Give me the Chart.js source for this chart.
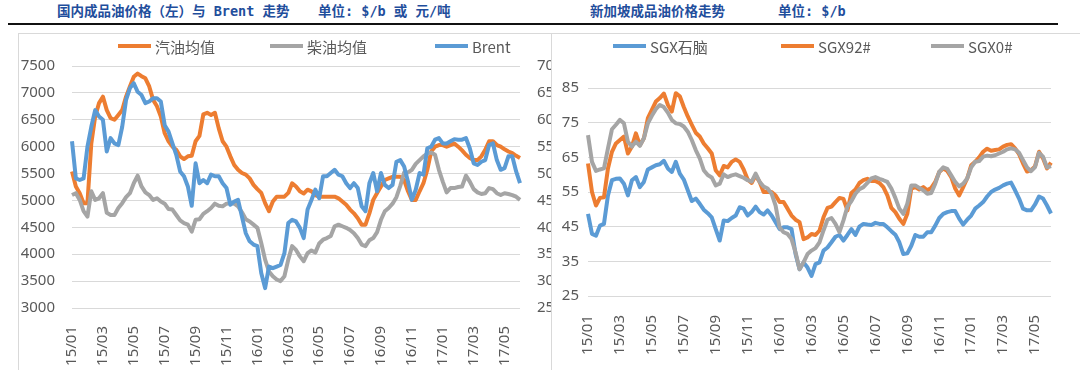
<!DOCTYPE html>
<html>
<head>
<meta charset="utf-8">
<title>成品油价格走势</title>
<script src="https://cdn.jsdelivr.net/npm/chart.js"></script>
<style>
    body { margin: 0; width: 1080px; height: 370px; overflow: hidden; background: #fff; position: relative; }
    .title { position: absolute; top: 1px; line-height: 20px; font-size: 13.5px; font-weight: bold; color: #1f4e9c;
             font-family: "DejaVu Sans Mono", "Noto Sans CJK SC", sans-serif; white-space: nowrap; }
    .rule { position: absolute; left: 8px; top: 23px; width: 1050px; border-top: 2px solid #111; }
    .frame { position: absolute; top: 33px; height: 345px; box-sizing: border-box; border: 1px solid #d9d9d9; background: #fff; }
    #leftFrame { left: 18px; width: 534px; z-index: 0; }
    #rightFrame { left: 551px; width: 529px; border-right: none; z-index: 2; }
    #leftChart { position: absolute; left: 19px; top: 34px; z-index: 1; }
    #rightChart { position: absolute; left: 1px; top: 0px; }
</style>
</head>
<body>
<div class="title" style="left:57px">国内成品油价格（左）与 Brent 走势</div>
<div class="title" style="left:318px">单位: $/b 或 元/吨</div>
<div class="title" style="left:590px">新加坡成品油价格走势</div>
<div class="title" style="left:778px">单位: $/b</div>
<div class="rule"></div>

<div class="frame" id="leftFrame"></div>
<canvas id="leftChart" width="598" height="340"></canvas>
<div class="frame" id="rightFrame">
    <canvas id="rightChart" width="527" height="340"></canvas>
</div>

<script>
// x 轴：每月 4 个点，每两个月一个刻度
var tickLabels = ['15/01', '15/03', '15/05', '15/07', '15/09', '15/11', '16/01', '16/03',
                  '16/05', '16/07', '16/09', '16/11', '17/01', '17/03', '17/05'];

// 国内成品油价格 (元/吨) 与 Brent ($/b)
var gasoline = [
    5540, 5260, 5135, 4950, 4950, 6060, 6560, 6810, 6930, 6680,
    6530, 6500, 6590, 6680, 6930, 7120, 7300, 7360, 7310, 7270,
    7120, 6870, 6750, 6560, 6250, 6100, 6000, 5940, 5820, 5770,
    5820, 5830, 6100, 6200, 6600, 6630, 6590, 6630, 6340, 6100,
    6000, 5820, 5660, 5570, 5510, 5480, 5410, 5290, 5210, 5140,
    4950, 4800, 4980, 5070, 5070, 5070, 5140, 5320, 5260, 5170,
    5130, 5200, 5170, 5100, 5070, 5070, 5070, 5070, 5070, 5040,
    4980, 4920, 4830, 4760, 4670, 4550, 4550, 4760, 5010, 5140,
    5260, 5380, 5410, 5440, 5440, 5440, 5380, 5170, 5010, 5010,
    5170, 5320, 5570, 5910, 6000, 6030, 6030, 6000, 6030, 6060,
    6000, 5930, 5850, 5790, 5750, 5750, 5820, 5940, 6100, 6100,
    6030, 6000, 5950, 5910, 5880, 5830, 5790
];
var diesel = [
    5100, 5135, 5010, 4800, 4700, 5170, 5010, 5040, 5135, 4770,
    4730, 4730, 4860, 4950, 5060, 5135, 5320, 5460, 5260, 5150,
    5100, 5010, 5040, 4980, 4940, 4840, 4830, 4730, 4630, 4580,
    4550, 4420, 4640, 4650, 4750, 4800, 4860, 4940, 4900, 4890,
    4940, 4950, 4940, 4890, 4780, 4650, 4610, 4550, 4490, 4210,
    3900, 3680, 3590, 3530, 3500, 3590, 3900, 4150, 4080, 3960,
    3870, 4020, 4070, 4030, 4200, 4270, 4300, 4340, 4520, 4550,
    4520, 4490, 4450, 4390, 4300, 4180, 4150, 4260, 4300, 4410,
    4640, 4800, 4860, 4940, 5060, 5270, 5520, 5520, 5570, 5680,
    5750, 5820, 5870, 5890, 5850, 5570, 5350, 5150, 5230, 5230,
    5250, 5260, 5460, 5350, 5210, 5150, 5120, 5135, 5230, 5210,
    5135, 5100, 5135, 5120, 5100, 5070, 5010
];
var brent = [
    56.0, 49.1, 48.8, 49.1, 55.0, 58.7, 61.8, 60.6, 60.0, 54.1,
    56.6, 55.6, 55.3, 58.7, 63.7, 65.9, 66.8, 65.2, 64.6, 63.1,
    63.4, 64.0, 64.0, 63.4, 59.0, 57.8, 55.6, 53.5, 50.4, 49.5,
    47.6, 44.0, 51.9, 48.2, 48.8, 48.2, 49.8, 49.5, 49.5, 48.2,
    47.3, 44.2, 44.8, 45.1, 42.0, 38.9, 37.4, 36.8, 36.5, 31.5,
    28.7, 32.7, 32.4, 32.7, 33.0, 35.2, 40.8, 41.4, 41.1, 39.9,
    38.0, 43.3, 45.1, 47.0, 45.4, 49.5, 49.5, 50.1, 50.7, 49.8,
    49.5, 48.2, 47.3, 48.2, 47.3, 43.9, 43.0, 48.2, 50.1, 46.7,
    50.1, 47.9, 47.3, 47.9, 52.2, 52.5, 51.3, 48.5, 45.1, 47.0,
    50.1, 49.8, 54.7, 55.0, 56.3, 56.6, 55.6, 55.6, 56.0, 56.4,
    56.3, 56.3, 56.6, 54.7, 51.9, 51.6, 52.2, 52.5, 55.3, 55.6,
    52.5, 50.7, 51.0, 53.2, 53.2, 50.4, 48.2
];

// 新加坡成品油价格 ($/b)
var naphtha = [
    48.7, 42.9, 42.4, 45.3, 45.8, 54.0, 58.4, 58.8, 58.9, 57.4,
    54.0, 58.4, 59.3, 56.4, 57.9, 61.5, 62.1, 62.7, 63.0, 64.0,
    61.8, 60.8, 63.7, 60.3, 58.6, 55.5, 52.4, 53.1, 51.6, 49.9,
    48.9, 47.7, 44.3, 41.0, 46.8, 46.6, 47.5, 48.2, 50.6, 50.2,
    48.2, 49.2, 50.8, 49.2, 48.5, 49.7, 48.2, 46.3, 44.3, 44.8,
    44.8, 44.3, 37.1, 32.7, 34.7, 33.2, 30.8, 34.2, 34.7, 38.1,
    39.0, 40.5, 42.1, 42.6, 41.0, 42.6, 44.3, 42.6, 45.0, 45.8,
    45.6, 45.5, 46.1, 45.8, 45.8, 44.8, 43.7, 42.7, 40.5, 37.1,
    37.3, 39.5, 42.6, 42.1, 42.1, 43.4, 43.4, 45.3, 47.5, 48.7,
    49.2, 49.5, 49.5, 47.3, 45.6, 47.0, 48.2, 50.2, 51.1, 52.1,
    53.7, 55.0, 55.7, 56.2, 56.9, 57.4, 57.7, 55.5, 53.1, 50.2,
    49.7, 49.7, 51.4, 53.7, 53.1, 51.1, 48.8
];
var sgx92 = [
    63.2, 55.0, 51.1, 53.3, 53.5, 61.8, 66.6, 69.0, 70.0, 71.0,
    66.1, 68.1, 71.9, 68.5, 70.5, 76.3, 78.7, 81.1, 82.1, 83.4,
    80.2, 78.2, 83.5, 82.6, 79.5, 76.8, 74.4, 72.1, 71.0, 69.0,
    67.6, 66.1, 61.3, 59.8, 62.5, 62.1, 63.7, 64.4, 63.7, 61.5,
    58.6, 57.6, 59.8, 57.9, 55.0, 55.0, 55.0, 54.0, 52.1, 52.1,
    50.2, 48.2, 47.0, 46.3, 41.4, 41.9, 42.9, 42.6, 43.9, 47.7,
    50.4, 50.8, 52.1, 53.3, 53.0, 49.7, 54.7, 55.7, 57.6, 58.4,
    58.8, 58.2, 58.2, 57.6, 56.4, 54.0, 50.4, 49.2, 47.3, 45.8,
    48.7, 56.0, 56.4, 55.7, 56.4, 55.5, 56.2, 57.9, 60.8, 61.8,
    61.1, 59.3, 56.0, 54.0, 56.4, 58.9, 62.7, 63.7, 65.0, 66.6,
    67.5, 66.9, 67.1, 67.3, 68.1, 68.6, 68.8, 67.6, 65.9, 63.2,
    60.9, 61.3, 62.4, 66.6, 64.7, 61.8, 63.5
];
var sgx0 = [
    71.4, 63.7, 61.1, 61.5, 61.8, 67.6, 73.1, 74.4, 75.8, 74.8,
    69.5, 68.1, 69.5, 68.3, 70.5, 74.8, 77.0, 78.9, 80.1, 79.5,
    77.9, 75.8, 74.8, 74.6, 73.9, 72.4, 70.0, 67.1, 64.7, 61.3,
    59.9, 59.2, 56.9, 57.4, 60.1, 59.3, 59.8, 60.1, 59.6, 59.1,
    58.4, 58.0, 60.3, 57.9, 56.6, 56.0, 54.5, 51.1, 44.8, 43.4,
    42.9, 41.4, 37.6, 32.7, 34.7, 37.1, 38.1, 38.8, 40.5, 43.9,
    47.0, 47.5, 45.8, 43.4, 46.8, 50.8, 52.4, 54.5, 55.8, 56.4,
    57.6, 58.9, 59.3, 58.8, 58.4, 57.9, 56.0, 53.3, 50.2, 48.7,
    51.6, 56.9, 56.9, 56.2, 55.5, 54.5, 54.7, 57.4, 60.8, 62.1,
    61.7, 59.8, 57.9, 56.6, 57.4, 58.9, 62.1, 63.7, 63.9, 65.2,
    65.5, 65.3, 65.6, 66.1, 66.6, 67.3, 67.6, 67.3, 66.3, 64.2,
    62.1, 61.0, 62.2, 66.3, 65.2, 62.1, 62.5
];

var ORANGE = '#ED7D31', GRAY = '#A5A5A5', BLUE = '#5B9BD5';
var tickFont = { family: '"Noto Sans", sans-serif', size: 15 };
var tickColor = '#595959';

// 每个点一个类别，只在双月月初显示刻度文字
var labels = gasoline.map(function (v, i) {
    return i % 8 === 0 ? (tickLabels[i / 8] || '') : '';
});

// 仿 Excel 的图例：一段横线 + 文字
var lineLegend = {
    id: 'lineLegend',
    afterDraw: function (chart, args, opts) {
        var ctx = chart.ctx;
        ctx.save();
        ctx.font = '15px "Noto Sans CJK SC", sans-serif';
        ctx.textBaseline = 'middle';
        opts.items.forEach(function (it) {
            var ds = chart.data.datasets[it.index];
            ctx.strokeStyle = ds.borderColor;
            ctx.lineWidth = 4;
            ctx.beginPath();
            ctx.moveTo(it.x, opts.y);
            ctx.lineTo(it.x + 33, opts.y);
            ctx.stroke();
            ctx.fillStyle = '#595959';
            ctx.fillText(ds.label, it.x + 37, opts.y + 1);
        });
        ctx.restore();
    }
};

function line(label, data, color, axis, order) {
    return {
        label: label, data: data, yAxisID: axis, order: order,
        borderColor: color, backgroundColor: color, borderWidth: 4,
        pointRadius: 0, tension: 0, fill: false, borderJoinStyle: 'round'
    };
}

function plain(v) { return String(v); }

function xAxis(pad, height) {
    return {
        type: 'category',
        grid: { display: false },
        border: { display: false },
        ticks: { autoSkip: false, minRotation: 90, maxRotation: 90, padding: pad, font: tickFont, color: tickColor },
        afterFit: function (s) { s.height = height; }
    };
}

new Chart(document.getElementById('leftChart'), {
    type: 'line',
    data: {
        labels: labels,
        datasets: [
            line('汽油均值', gasoline, ORANGE, 'y', 3),
            line('柴油均值', diesel, GRAY, 'y', 2),
            line('Brent', brent, BLUE, 'y1', 1)
        ]
    },
    options: {
        responsive: false,
        animation: false,
        layout: { padding: { top: 32, left: 0, right: 0, bottom: 0 } },
        plugins: {
            legend: { display: false },
            tooltip: { enabled: false },
            lineLegend: { y: 12, items: [{ index: 0, x: 99 }, { index: 1, x: 251 }, { index: 2, x: 416 }] }
        },
        scales: {
            x: xAxis(10, 66),
            y: {
                position: 'left', min: 3000, max: 7500,
                ticks: { stepSize: 500, padding: 17, font: tickFont, color: tickColor, callback: plain },
                grid: { color: '#d9d9d9', drawTicks: false },
                border: { display: false },
                afterFit: function (s) { s.width = 53; }
            },
            y1: {
                position: 'right', min: 25, max: 70,
                ticks: { stepSize: 5, padding: 17, font: tickFont, color: tickColor, callback: plain },
                grid: { drawOnChartArea: false, drawTicks: false },
                border: { display: false },
                afterFit: function (s) { s.width = 97; }
            }
        }
    },
    plugins: [lineLegend]
});

new Chart(document.getElementById('rightChart'), {
    type: 'line',
    data: {
        labels: labels,
        datasets: [
            line('SGX石脑', naphtha, BLUE, 'y', 3),
            line('SGX92#', sgx92, ORANGE, 'y', 2),
            line('SGX0#', sgx0, GRAY, 'y', 1)
        ]
    },
    options: {
        responsive: false,
        animation: false,
        layout: { padding: { top: 54, left: 0, right: 23, bottom: 0 } },
        plugins: {
            legend: { display: false },
            tooltip: { enabled: false },
            lineLegend: { y: 12, items: [{ index: 0, x: 60 }, { index: 1, x: 228 }, { index: 2, x: 378 }] }
        },
        scales: {
            x: xAxis(11, 78),
            y: {
                position: 'left', min: 25, max: 85,
                ticks: { stepSize: 10, padding: 9, font: tickFont, color: tickColor, callback: plain },
                grid: { color: '#d9d9d9', drawTicks: false },
                border: { display: false },
                afterFit: function (s) { s.width = 35; }
            }
        }
    },
    plugins: [lineLegend]
});
</script>
</body>
</html>
